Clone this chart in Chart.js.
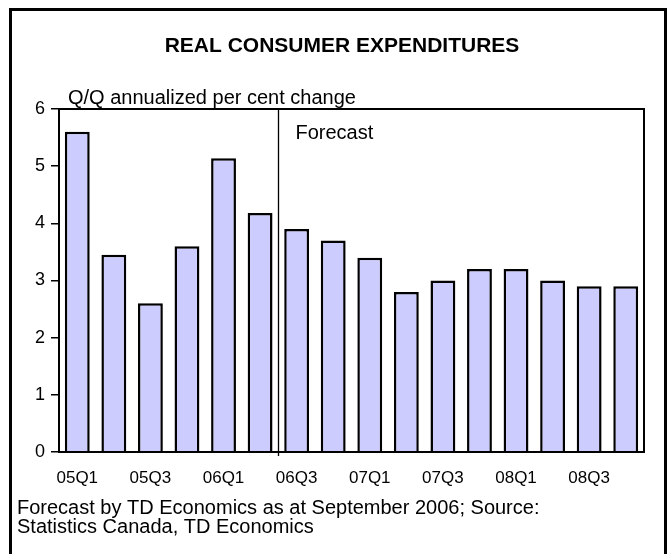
<!DOCTYPE html>
<html>
<head>
<meta charset="utf-8">
<title>Real consumer expenditures</title>
<script src="https://cdn.jsdelivr.net/npm/chart.js@4.4.1/dist/chart.umd.min.js"></script>
<style>
    html, body { margin: 0; padding: 0; background: #fff; }
    #grafico { display: block; }
</style>
</head>
<body>
<canvas id="grafico" width="668" height="554"></canvas>
<script>
// quarters 2005 to 2008, values in % (q/q annualized)
const trimestres = ["05Q1","05Q2","05Q3","05Q4","06Q1","06Q2","06Q3","06Q4","07Q1","07Q2","07Q3","07Q4","08Q1","08Q2","08Q3","08Q4"]
const gastos     = [5.6, 3.45, 2.6, 3.6, 5.14, 4.18, 3.9, 3.7, 3.4, 2.8, 3.0, 3.2, 3.2, 3.0, 2.9, 2.9]
const inicioPrevisao = "06Q3"
const eixoY = { min: 0, max: 6, passo: 1 }

const titulo   = "REAL CONSUMER EXPENDITURES"
const unidade  = "Q/Q annualized per cent change"
const previsao = "Forecast"
const rodape   = ["Forecast by TD Economics as at September 2006; Source:", "Statistics Canada, TD Economics"]

const fonte = "'Liberation Sans', Arial, sans-serif"

// frame, titles, plot box and the forecast divider
const textos = {
    id: "textos",
    beforeDraw(chart) {
        const ctx = chart.ctx
        ctx.save()
        ctx.fillStyle = "#fff"
        ctx.fillRect(0, 0, chart.width, chart.height)
        ctx.restore()
    },
    afterDraw(chart) {
        const ctx = chart.ctx
        const area = chart.chartArea
        const x = chart.scales.x

        ctx.save()
        ctx.strokeStyle = "#000"

        // outer frame
        ctx.lineWidth = 3
        ctx.beginPath()
        ctx.moveTo(10.5, chart.height + 5)
        ctx.lineTo(10.5, 9.5)
        ctx.lineTo(665.5, 9.5)
        ctx.lineTo(665.5, chart.height + 5)
        ctx.stroke()

        // plot box
        ctx.lineWidth = 2
        ctx.strokeRect(area.left, area.top, area.right - area.left, area.bottom - area.top)

        // forecast divider
        const i = trimestres.indexOf(inicioPrevisao)
        const xp = Math.round((x.getPixelForValue(i - 1) + x.getPixelForValue(i)) / 2) + 0.5
        ctx.lineWidth = 1.3
        ctx.beginPath()
        ctx.moveTo(xp, area.top)
        ctx.lineTo(xp, area.bottom + 4)
        ctx.stroke()

        ctx.fillStyle = "#000"
        ctx.textBaseline = "alphabetic"

        ctx.font = "bold 21px " + fonte
        ctx.textAlign = "center"
        ctx.fillText(titulo, 342, 52)

        ctx.font = "20px " + fonte
        ctx.textAlign = "left"
        ctx.fillText(unidade, 68, 104)
        ctx.fillText(previsao, xp + 17, 139)

        ctx.fillText(rodape[0], 17, 514)
        ctx.fillText(rodape[1], 17, 533)
        ctx.restore()
    }
}

new Chart(document.getElementById("grafico"), {
    type: "bar",
    data: {
        labels: trimestres,
        datasets: [{
            data: gastos,
            backgroundColor: "#CCCCFF",
            borderColor: "#000",
            borderWidth: 2.5,
            barPercentage: 0.68,
            categoryPercentage: 1
        }]
    },
    options: {
        responsive: false,
        animation: false,
        layout: { padding: { top: 109, right: 24, bottom: 61, left: 0 } },
        plugins: { legend: { display: false }, tooltip: { enabled: false } },
        scales: {
            x: {
                grid: { display: false, drawTicks: false },
                border: { display: true, color: "#000", width: 2 },
                ticks: {
                    autoSkip: false,
                    maxRotation: 0,
                    padding: 16,
                    color: "#000",
                    font: { family: fonte, size: 17 },
                    callback: (v, i) => i % 2 == 0 ? trimestres[i] : ""
                },
                afterFit: (s) => { s.height = 41 }
            },
            y: {
                min: eixoY.min,
                max: eixoY.max,
                grid: { drawOnChartArea: false, tickLength: 8, color: "#000", lineWidth: 1.5 },
                border: { display: true, color: "#000", width: 2 },
                ticks: {
                    stepSize: eixoY.passo,
                    padding: 6,
                    color: "#000",
                    font: { family: fonte, size: 18 }
                },
                afterFit: (s) => { s.width = 59 }
            }
        }
    },
    plugins: [textos]
})
</script>
</body>
</html>
